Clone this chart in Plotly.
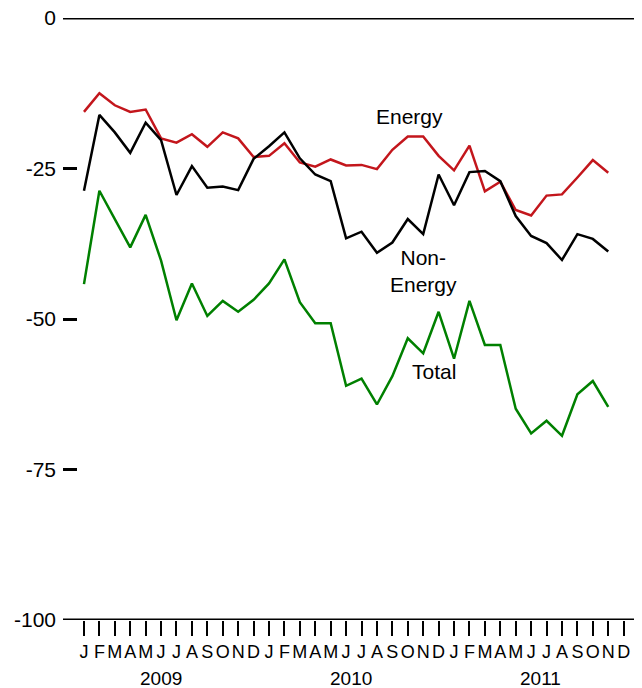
import plotly.graph_objects as go

# monthly values, Jan 2009 - Nov 2011
energy = [-15.6, -12.5, -14.5, -15.6, -15.2, -20.0, -20.7, -19.3, -21.4, -19.0, -20.0, -23.1,
          -22.9, -20.8, -24.0, -24.7, -23.5, -24.5, -24.4, -25.1, -21.9, -19.7, -19.7, -22.9,
          -25.3, -21.2, -28.8, -27.2, -31.9, -32.8, -29.5, -29.3, -26.5, -23.6, -25.7]
non_energy = [-28.7, -16.1, -19.0, -22.4, -17.4, -20.3, -29.4, -24.6, -28.2, -28.0, -28.6, -23.4,
              -21.3, -19.0, -23.3, -26.0, -27.1, -36.6, -35.5, -39.0, -37.3, -33.4, -35.9, -26.0,
              -31.1, -25.6, -25.4, -27.1, -32.9, -36.2, -37.4, -40.2, -35.9, -36.7, -38.8]
total = [-44.2, -28.7, -33.4, -38.1, -32.7, -40.3, -50.2, -44.1, -49.5, -47.0, -48.8, -46.8,
         -44.1, -40.1, -47.2, -50.7, -50.7, -61.1, -59.9, -64.2, -59.5, -53.2, -55.7, -48.8,
         -56.6, -47.0, -54.3, -54.3, -64.9, -69.0, -66.9, -69.4, -62.5, -60.3, -64.6]

month_letters = ["J", "F", "M", "A", "M", "J", "J", "A", "S", "O", "N", "D"] * 3
years = ["2009", "2010", "2011"]
y_ticks = [0, -25, -50, -75, -100]
y_ticktext = ["0", "-25", "-50", "-75", "-100"]

FONT = "Liberation Sans, Arial, sans-serif"
months = list(range(len(month_letters)))
x = months[:len(total)]

fig = go.Figure()
fig.add_trace(go.Scatter(x=x, y=energy, mode="lines", line=dict(color="#c3161c", width=2.5)))
fig.add_trace(go.Scatter(x=x, y=non_energy, mode="lines", line=dict(color="black", width=2.5)))
fig.add_trace(go.Scatter(x=x, y=total, mode="lines", line=dict(color="#008000", width=2.5)))

# series labels
fig.add_annotation(x=21.1, y=-16.3, text="Energy", showarrow=False)
fig.add_annotation(x=22.05, y=-42.0, text="Non-<br>Energy", showarrow=False)
fig.add_annotation(x=22.7, y=-58.7, text="Total", showarrow=False)

# year labels under the months
for i, yr in enumerate(years):
    fig.add_annotation(x=5.0 + 12.3 * i, y=0, yref="paper", yanchor="middle", yshift=-58,
                       text=yr, showarrow=False, font=dict(size=19))

# zero line and bottom axis line
fig.add_shape(type="line", xref="paper", yref="y", x0=0, x1=1, y0=0, y1=0,
              line=dict(color="black", width=3))
fig.add_shape(type="line", xref="paper", yref="y", x0=0, x1=0.99, y0=-100, y1=-100,
              line=dict(color="black", width=3))

# page body has an 8px margin, so the figure is drawn 8px smaller and shifted
fig.update_layout(
    width=634, height=680,
    margin=dict(l=55, r=2, t=10, b=68),
    paper_bgcolor="white", plot_bgcolor="white",
    showlegend=False,
    font=dict(family=FONT, size=21, color="black"),
    xaxis=dict(range=[-1.36, 36.06], tickvals=months, ticktext=month_letters,
               tickangle=0, automargin=False,
               ticks="outside", ticklen=15, tickwidth=2, tickcolor="black",
               tickfont=dict(size=18), showgrid=False, zeroline=False, showline=False),
    yaxis=dict(range=[-100, 0], tickvals=y_ticks, ticktext=y_ticktext, automargin=False,
               ticks="inside", ticklen=14, tickwidth=2.5, ticklabelstandoff=6,
               ticklabeloverflow="allow",
               tickcolor="black", showgrid=False, zeroline=False, showline=False),
)

fig.write_html("out.html")
